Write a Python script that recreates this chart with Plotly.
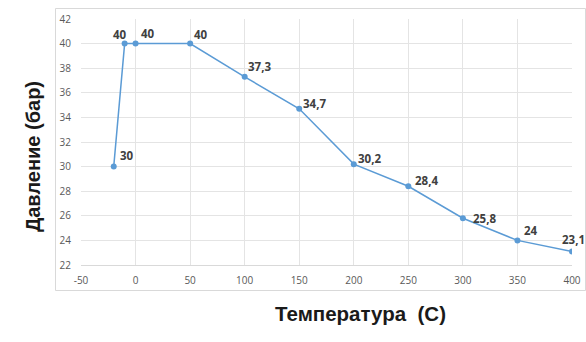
import plotly.graph_objects as go

# Pressure vs temperature data
temperature = [-20, -10, 0, 50, 100, 150, 200, 250, 300, 350, 400]
pressure = [30, 40, 40, 40, 37.3, 34.7, 30.2, 28.4, 25.8, 24, 23.1]

x_ticks = list(range(-50, 401, 50))
y_ticks = list(range(22, 43, 2))

# label offsets (pixels) from each point: left edge of text, vertical centre
label_dx = [5, -13, 4, 3, 2, 3, 3, 6, 9, 6, -11]
label_dy = [11, 9, 10, 9, 10, 5, 6, 6, 0, 10, 12]

line_color = "#5b9bd5"

fig = go.Figure()
fig.add_trace(go.Scatter(
    x=temperature, y=pressure, mode="lines+markers",
    line=dict(color=line_color, width=1.5),
    marker=dict(color=line_color, size=6),
    hoverinfo="skip", showlegend=False,
))

for xv, yv, dx, dy in zip(temperature, pressure, label_dx, label_dy):
    fig.add_annotation(
        x=xv, y=yv, xref="x", yref="y",
        text=f"<b>{str(yv).replace('.', ',')}</b>",
        showarrow=False, xanchor="left", yanchor="middle",
        xshift=dx, yshift=dy, borderpad=0,
        font=dict(family="Open Sans, Arial, sans-serif", size=11.5, color="#404040"),
    )

W, H = 586, 342
ml, mr, mt, mb = 81, 14, 19, 77
pw, ph = W - ml - mr, H - mt - mb


def px_x(p):
    return (p - ml) / pw


def px_y(p):
    return 1 - (p - mt) / ph


# axis titles
fig.add_annotation(
    x=px_x(20), y=px_y(157), xref="paper", yref="paper",
    text="<b>Давление (бар)</b>", showarrow=False, textangle=-90,
    font=dict(family="Liberation Sans, Arial, sans-serif", size=20, color="#1a1a1a"),
)
fig.add_annotation(
    x=px_x(360), y=px_y(327), xref="paper", yref="paper",
    text="<b>Температура  (С)</b>", showarrow=False,
    font=dict(family="Liberation Sans, Arial, sans-serif", size=20.5, color="#1a1a1a"),
)

# chart frame
fig.add_shape(
    type="rect", xref="paper", yref="paper",
    x0=px_x(55.5), x1=px_x(585.5), y0=px_y(290.5), y1=px_y(8.5),
    line=dict(color="#d9d9d9", width=1), fillcolor="rgba(0,0,0,0)", layer="below",
)

tick_font = dict(family="Open Sans, Arial, sans-serif", size=10, color="#595959")
fig.update_layout(
    width=W, height=H,
    margin=dict(l=ml, r=mr, t=mt, b=mb, autoexpand=False),
    paper_bgcolor="white", plot_bgcolor="white",
    xaxis=dict(
        range=[-50, 400], tickvals=x_ticks, ticktext=[str(v) for v in x_ticks],
        tickfont=tick_font, ticklabelstandoff=6,
        showgrid=True, gridcolor="#e4e4e4", gridwidth=1,
        zeroline=False, showline=True, linecolor="#d9d9d9",
        ticks="", fixedrange=True, automargin=False,
    ),
    yaxis=dict(
        range=[22, 42], tickvals=y_ticks, tickfont=tick_font,
        ticklabelstandoff=9,
        showgrid=True, gridcolor="#e4e4e4", gridwidth=1,
        zeroline=False, showline=False, ticks="", fixedrange=True,
        automargin=False,
    ),
)

fig.write_html("out.html")
